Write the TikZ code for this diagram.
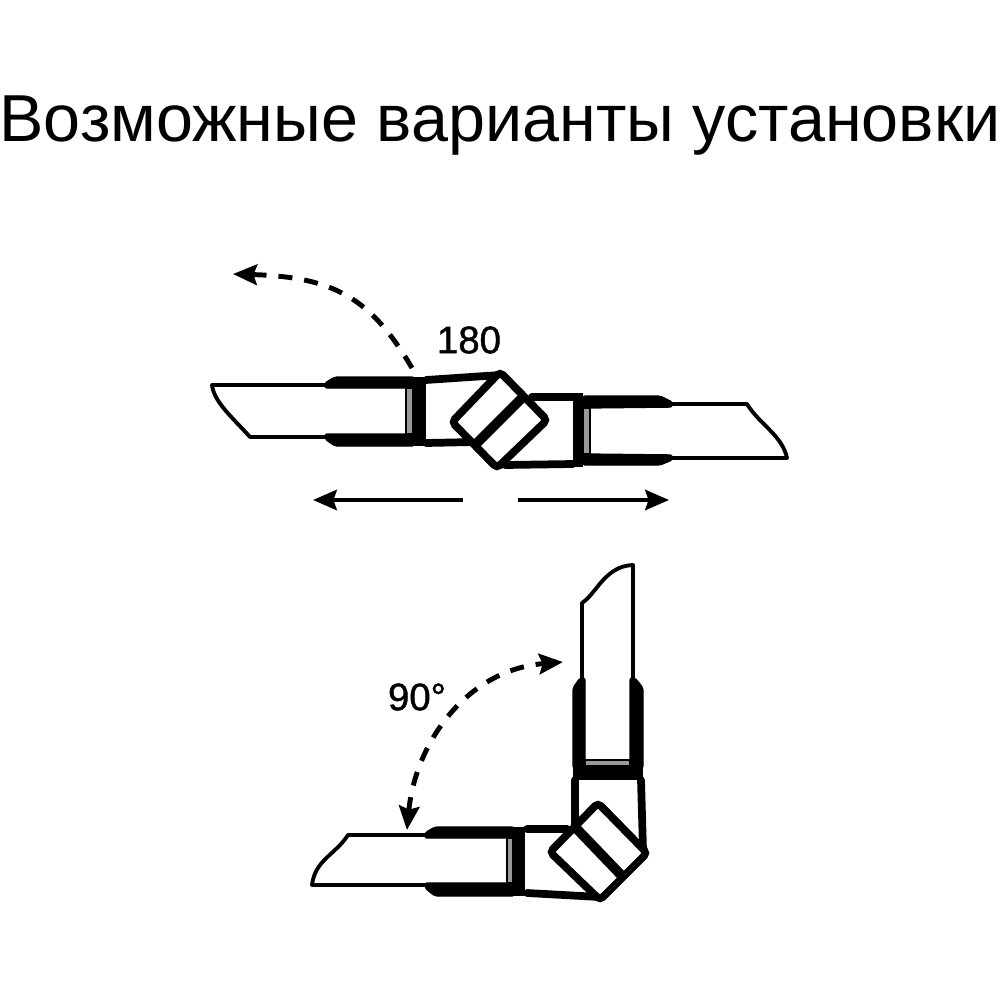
\documentclass[tikz,border=0pt]{standalone}
\usepackage{fontspec}
\setmainfont{Liberation Sans}
\newfontfamily\labelfont[FakeBold=1.2]{Liberation Sans}
\usetikzlibrary{arrows.meta}

\begin{document}
\begin{tikzpicture}
    [x=0.01cm, y=-0.01cm, >={Stealth[length=6.8pt,width=5.8pt,inset=1pt]},
    tube/.style={line width=1.1pt, line join=round},
    band/.style={fill=black, rounded corners=0.6pt},
    seal/.style={fill=black!40, draw=black, line width=0.3pt},
    capline/.style={line width=2.2pt, line join=round, line cap=round},
    joint/.style={draw, fill=white, line width=2.2pt, rounded corners=1.2pt},
    hinge/.style={line width=2.8pt},
    swing/.style={line width=1.4pt, dash pattern=on 4pt off 3.4pt},
    move/.style={line width=1pt},
    desc/.style={font=\labelfont\fontsize{10.9pt}{12pt}\selectfont, inner sep=0pt}]

  \useasboundingbox (0,0) rectangle (1000,1000);

  \node[font=\fontsize{18.9pt}{22pt}\selectfont, inner sep=0pt] (title) at (500,126) {Возможные варианты установки};
  \node[desc] (label_a) at (469,340) {180};
  \node[desc] (label_b) at (417,697) {90°};

  % upper pair, left half
  \draw[tube] (405,385) -- (212,385) .. controls (214,402) and (232,417) .. (250,437) -- (405,437);
  \draw[band] (325,383) -- (335,377) -- (414,377) -- (414,388) -- (325,388) -- cycle;
  \draw[band] (325,434) -- (414,434) -- (414,446) -- (335,446) -- (325,439) -- cycle;
  \filldraw[seal] (406,388) rectangle (413,434);
  \fill (413,377) rectangle (426,446);
  \draw[capline] (426,380) -- (500,375);
  \draw[capline] (426,443) -- (475,442);

  % upper pair, right half
  \draw[tube] (592,404) -- (747,404) .. controls (760,425) and (782,435) .. (787,458) -- (592,458);
  \draw[band] (583,396) -- (660,396) -- (672,402) -- (672,407) -- (583,408) -- cycle;
  \draw[band] (583,454) -- (672,455) -- (672,460) -- (660,465) -- (583,465) -- cycle;
  \filldraw[seal] (583,408) rectangle (590,454);
  \fill (573,393) rectangle (583,467);
  \draw[capline] (573,397) -- (532,397);
  \draw[capline] (573,464) -- (505,465);

  \path[joint] (452,422) -- (500,372) -- (547,420) -- (497,468) -- cycle;
  \draw[hinge] (474,446) -- (524,396);

  % lower pair, horizontal half
  \draw[tube] (505,835) -- (348,835) .. controls (335,855) and (315,860) .. (312,885) -- (505,885);
  \draw[band] (425,833) -- (435,827) -- (514,827) -- (514,838) -- (425,838) -- cycle;
  \draw[band] (425,883) -- (514,883) -- (514,896) -- (435,896) -- (425,888) -- cycle;
  \filldraw[seal] (507,838) rectangle (513,883);
  \fill (513,827) rectangle (525,896);
  \draw[capline] (527,829) -- (567,829);
  \draw[capline] (527,893) -- (600,897);

  % lower pair, vertical half
  \draw[tube] (582,760) -- (582,603) .. controls (597,593) and (605,566) .. (633,565) -- (633,760);
  \draw[band] (580,678) -- (573,688) -- (573,768) -- (585,768) -- (585,678) -- cycle;
  \draw[band] (635,678) -- (643,688) -- (643,768) -- (630,768) -- (630,678) -- cycle;
  \filldraw[seal] (585,760) rectangle (630,766);
  \fill (573,767) rectangle (643,780);
  \draw[capline] (575,780) -- (575,828);
  \draw[capline] (641,780) -- (643,850);

  \path[joint] (550,852) -- (598,803) -- (647,853) -- (600,900) -- cycle;
  \draw[hinge] (575,827) -- (623,877);

  % arrows
  \coordinate (swing_a0) at (412,368);
  \coordinate (swing_a1) at (233,274);
  \coordinate (swing_b0) at (563,662);
  \coordinate (swing_b1) at (407,830);
  \coordinate (move_l0) at (463,500);
  \coordinate (move_l1) at (313,500);
  \coordinate (move_r0) at (518,500);
  \coordinate (move_r1) at (669,500);

  \draw[swing,->] (swing_a0) .. controls (371,298) and (334,277) .. (swing_a1);
  \draw[swing,<->] (swing_b1) .. controls (415,745) and (465,670) .. (swing_b0);
  \draw[move,->] (move_l0) -- (move_l1);
  \draw[move,->] (move_r0) -- (move_r1);

\end{tikzpicture}
\end{document}
